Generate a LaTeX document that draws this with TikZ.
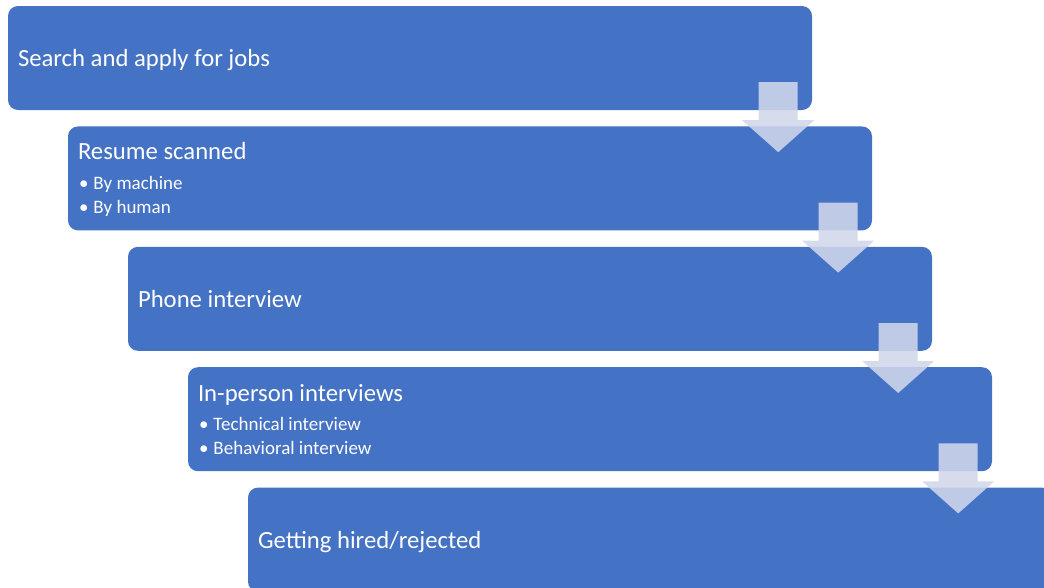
\documentclass[tikz,border=0pt]{standalone}
\usepackage{fontspec}
\setmainfont{Carlito}
\usetikzlibrary{positioning,calc}

\definecolor{stepblue}{RGB}{68,114,196}
\definecolor{arrowtint}{RGB}{209,215,235}
\newcommand{\bulletfont}{\fontsize{19}{22}\selectfont}
\newcommand{\bulletmark}{\hspace*{1pt}\makebox[14.5pt][l]{\textbullet}}

\begin{document}
\begin{tikzpicture}[x=1pt, y=-1pt, node distance=16pt,
			stepbox/.style={fill=stepblue, rounded corners=10pt, minimum width=804pt, minimum height=104pt,
				text width=784pt, inner xsep=10pt, align=flush left, text=white, font=\fontsize{24.7}{28}\selectfont,
				execute at begin node={\spaceskip=0pt\xspaceskip=0pt\rule{0pt}{0.95em}},
				execute at end node={\rule[-0.27em]{0pt}{0pt}\endgraf}},
			pics/downarrow/.style={code={
				\fill[arrowtint, fill opacity=0.88] (-19.5,0) -- (19.5,0) -- (19.5,38) -- (36,38) -- (0,70) -- (-36,38) -- (-19.5,38) -- cycle;}}]
			
			\clip (0,0) rectangle (1044,587);
			
			\node[stepbox] (search) at (410,58) {Search and apply for jobs};
			\node[stepbox, below=of search, xshift=60pt] (resume) {Resume scanned\\[8pt]\bulletfont\bulletmark By machine\\[-4pt]\bulletmark By human};
			\node[stepbox, below=of resume, xshift=60pt] (phone) {Phone interview};
			\node[stepbox, below=of phone, xshift=60pt] (inperson) {In-person interviews\\[7pt]\bulletfont\bulletmark Technical interview\\[-4pt]\bulletmark Behavioral interview};
			\node[stepbox, below=of inperson, xshift=60pt] (hired) {Getting hired/rejected};
			
			\pic at ($(search.south east)+(-34,-28)$) {downarrow};
			\pic at ($(resume.south east)+(-34,-28)$) {downarrow};
			\pic at ($(phone.south east)+(-34,-28)$) {downarrow};
			\pic at ($(inperson.south east)+(-34,-28)$) {downarrow};
			
		\end{tikzpicture}
\end{document}
